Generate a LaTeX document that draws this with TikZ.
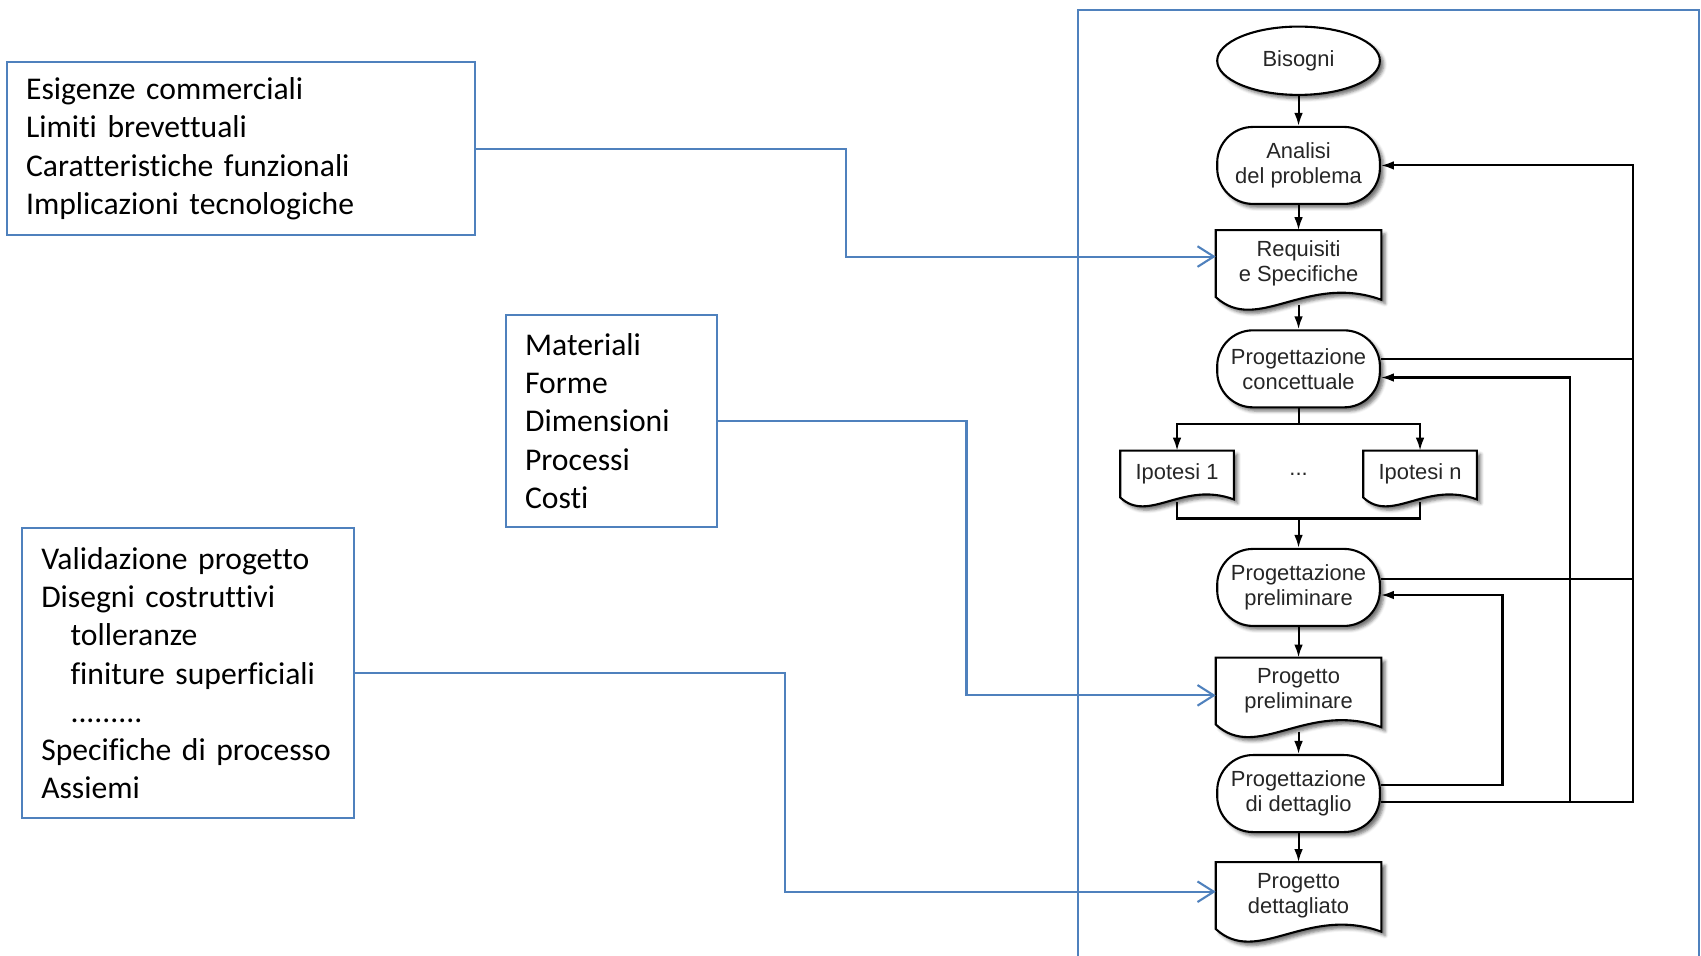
\documentclass[tikz,border=0pt]{standalone}
\usepackage{fontspec}
\setmainfont{Carlito}[Ligatures=NoCommon]
\newfontfamily\flowfont{Liberation Sans}
\usetikzlibrary{arrows.meta, shapes.geometric, calc, backgrounds, shadows.blur}

\definecolor{linkblue}{RGB}{79,129,189}

\tikzset{
  infobox/.style={draw=linkblue, line width=1.1pt, align=left, inner xsep=0.36cm, inner ysep=0pt,
    font=\fontsize{16.6}{20.1}\selectfont},
  link/.style={draw=linkblue, line width=1.1pt, -{Straight Barb[length=0.3cm, width=0.38cm]}},
  softshadow/.style={blur shadow={shadow xshift=0.07cm, shadow yshift=-0.07cm,
    shadow blur radius=0.06cm, shadow opacity=55}},
  flowtext/.style={align=center, text=black!85, font=\flowfont\fontsize{11.5}{13.2}\selectfont},
  stadium/.style={rectangle, rounded corners=0.66cm, draw, line width=1.1pt, fill=white,
    minimum width=3cm, minimum height=1.42cm, softshadow, flowtext},
  docnode/.style={rectangle, minimum width=3.04cm, minimum height=1.22cm, flowtext},
  flow/.style={line width=1.1pt, -{Latex[length=0.24cm, width=0.16cm]}},
  plain/.style={line width=1.1pt},
}

% document symbol with a wavy bottom, drawn behind its node
\newcommand{\docoutline}[2]{%
  \path[draw, line width=1.1pt, fill=white, softshadow]
    (#1.north west) -- (#1.north east) -- ($(#1.south east)+(0cm,-0.05cm*#2)$)
    .. controls ($(#1.south west)!0.55!(#1.south east)+(0cm,0.45cm*#2)$)
       and ($(#1.south west)!0.25!(#1.south east)+(0cm,-0.7cm*#2)$) .. (#1.south west) -- cycle;}

\begin{document}
\begin{tikzpicture}[x=0.02cm, y=-0.02cm]
\useasboundingbox (0,0) rectangle (1568,881);

% Frame round the flowchart
\draw[linkblue, line width=1.1pt] (994,890) -- (994,9) -- (1566,9) -- (1566,890);

% Flowchart
\node[ellipse, draw, line width=1.1pt, fill=white, minimum width=3cm, minimum height=1.26cm,
  softshadow, flowtext] (bis) at (1197,56) {Bisogni};
\node[stadium] (ana) at (1197,152.5) {Analisi\\del problema};
\node[docnode] (req) at (1197,243) {Requisiti\\e Specifiche};
\node[stadium] (conc) at (1197,340) {Progettazione\\concettuale};
\node[docnode, minimum width=2.08cm, minimum height=0.85cm] (ip1) at (1085,437) {Ipotesi 1};
\node[flowtext] (dots) at (1197,437) {...};
\node[docnode, minimum width=2.08cm, minimum height=0.85cm] (ipn) at (1309,437) {Ipotesi n};
\node[stadium] (prel) at (1197,541.5) {Progettazione\\preliminare};
\node[docnode] (pprel) at (1197,637) {Progetto\\preliminare};
\node[stadium] (det) at (1197,731.5) {Progettazione\\di dettaglio};
\node[docnode] (pdet) at (1197,825.5) {Progetto\\dettagliato};

\begin{scope}[on background layer]
  \docoutline{req}{1}
  \docoutline{ip1}{0.7}
  \docoutline{ipn}{0.7}
  \docoutline{pprel}{1}
  \docoutline{pdet}{1}
\end{scope}

% Main sequence
\draw[flow] (bis) -- (ana);
\draw[flow] (ana) -- (req);
\draw[flow] ([yshift=-0.14cm]req.south) -- (conc);
\draw[flow] (conc.south) -- ++(0,14) -| (ip1.north);
\draw[flow] (conc.south) -- ++(0,14) -| (ipn.north);
\coordinate (join) at (1197,478);
\draw[plain] ([yshift=-0.08cm]ip1.south) |- (join) -| ([yshift=-0.08cm]ipn.south);
\draw[flow] (join) -- (prel);
\draw[flow] (prel) -- (pprel);
\draw[flow] ([yshift=-0.14cm]pprel.south) -- (det);
\draw[flow] (det) -- (pdet);

% Feedback loops
\coordinate (anaIn) at (ana.east);
\coordinate (concOut) at ([yshift=0.18cm]conc.east);
\coordinate (concIn) at ([yshift=-0.16cm]conc.east);
\coordinate (prelOut) at ([yshift=0.16cm]prel.east);
\coordinate (prelIn) at ([yshift=-0.14cm]prel.east);
\coordinate (detOut) at ([yshift=0.16cm]det.east);
\coordinate (detLow) at ([yshift=-0.16cm]det.east);
\coordinate (railA) at (1505,0);
\coordinate (railB) at (1447,0);
\coordinate (railC) at (1385,0);
\draw[flow] (detLow) -| (railA |- anaIn) -- (anaIn);
\draw[plain] (concOut) -- (concOut -| railA);
\draw[plain] (prelOut) -- (prelOut -| railA);
\draw[flow] (detLow -| railB) |- (concIn);
\draw[flow] (detOut) -| (railC |- prelIn) -- (prelIn);

% Inputs
\node[infobox, text width=7.92cm, minimum height=3.2cm] (esig) at (222,137)
  {Esigenze commerciali\\Limiti brevettuali\\Caratteristiche funzionali\\Implicazioni tecnologiche};
\node[infobox, text width=3.18cm, minimum height=3.92cm] (mat) at (563.5,388)
  {Materiali\\Forme\\Dimensioni\\Processi\\Costi};
\node[infobox, text width=5.4cm, minimum height=5.34cm] (valid) at (173,620.5)
  {Validazione progetto\\Disegni costruttivi\\\hspace*{0.54cm}tolleranze\\
   \hspace*{0.54cm}finiture superficiali\\\hspace*{0.54cm}.........\\Specifiche di processo\\Assiemi};

\draw[link] (esig.east) -- ++(341,0) |- ([yshift=0.13cm]req.west);
\draw[link] (mat.east) -- ++(229,0) |- ([yshift=-0.08cm]pprel.west);
\draw[link] (valid.east) -- ++(397,0) |- ([yshift=0.07cm]pdet.west);

\end{tikzpicture}
\end{document}
